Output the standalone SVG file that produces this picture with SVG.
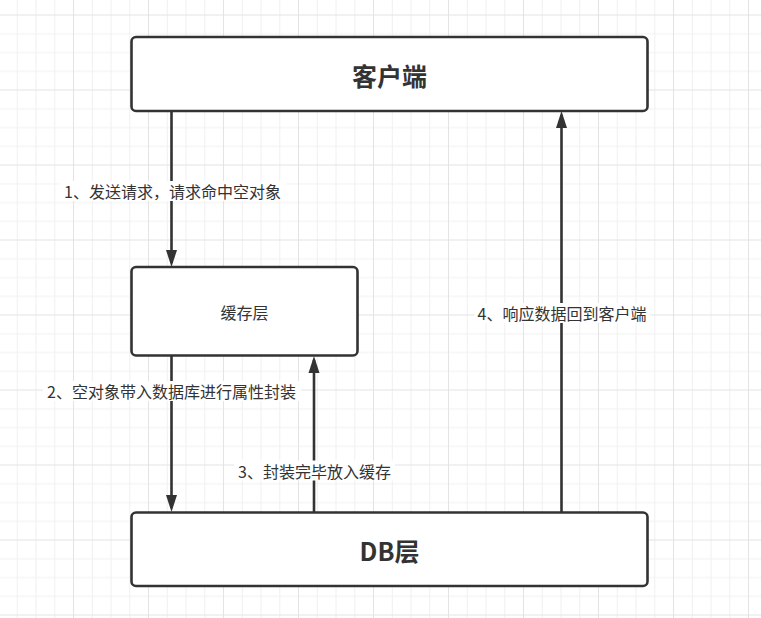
<svg xmlns="http://www.w3.org/2000/svg" width="761" height="618" viewBox="0 0 761 618">
  <defs>
    <pattern id="grid" patternUnits="userSpaceOnUse" x="73" y="89.5" width="75" height="75">
      <path d="M19.25,0 V75 M38,0 V75 M56.75,0 V75 M0,19.25 H75 M0,38 H75 M0,56.75 H75" stroke="#f0f0f0" stroke-width="1" fill="none"/>
      <path d="M0.5,0 V75 M0,0.5 H75" stroke="#e3e3e3" stroke-width="1" fill="none"/>
    </pattern>
    <marker id="arrow" viewBox="0 -6 17 12" markerWidth="17" markerHeight="12" refX="13" refY="0" orient="auto" markerUnits="userSpaceOnUse">
      <path d="M0,-5.5 L17,0 L0,5.5 Z" fill="#333333"/>
    </marker>
    <style>
      .node rect { fill: #ffffff; stroke: #333333; stroke-width: 2.6; }
      .title { font-family: "Noto Sans CJK SC", "Noto Sans", sans-serif; font-weight: bold; font-size: 25px; fill: #333333; text-anchor: middle; dominant-baseline: central; }
      .plain { font-family: "Noto Sans CJK SC", "Noto Sans", sans-serif; font-size: 16px; fill: #333333; text-anchor: middle; dominant-baseline: central; }
      .conn line { stroke: #333333; stroke-width: 2.6; marker-end: url(#arrow); }
      .lbl rect { fill: #ffffff; }
      .lbl text { font-family: "Noto Sans CJK SC", "Noto Sans", sans-serif; font-size: 16px; fill: #333333; text-anchor: middle; dominant-baseline: central; }
    </style>
  </defs>
  <rect x="0" y="0" width="761" height="618" fill="#ffffff"/>
  <rect x="0" y="0" width="761" height="618" fill="url(#grid)"/>

  <g id="connectors" class="conn">
    <line x1="171.5" y1="111" x2="171.5" y2="263"/>
    <line x1="171.5" y1="356" x2="171.5" y2="508"/>
    <line x1="314" y1="512" x2="314" y2="360"/>
    <line x1="561.5" y1="512" x2="561.5" y2="115"/>
  </g>

  <g id="labels" class="lbl">
    <g id="label1">
      <rect x="60" y="181" width="226" height="20"/>
      <text x="172.5" y="191">1、发送请求，请求命中空对象</text>
    </g>
    <g id="label2">
      <rect x="43" y="381" width="258" height="20"/>
      <text x="171.5" y="391">2、空对象带入数据库进行属性封装</text>
    </g>
    <g id="label3">
      <rect x="234" y="460.5" width="161" height="20"/>
      <text x="314.5" y="470.5">3、封装完毕放入缓存</text>
    </g>
    <g id="label4">
      <rect x="474" y="303" width="176" height="20"/>
      <text x="562" y="313">4、响应数据回到客户端</text>
    </g>
  </g>

  <g id="client" class="node">
    <rect x="131.5" y="37" width="516" height="74" rx="4.5" ry="4.5"/>
    <text class="title" x="389.5" y="74.5">客户端</text>
  </g>
  <g id="cache" class="node">
    <rect x="131.5" y="267" width="226" height="88.5" rx="4.5" ry="4.5"/>
    <text class="plain" x="244.5" y="312">缓存层</text>
  </g>
  <g id="db" class="node">
    <rect x="131.5" y="512.5" width="516" height="73.5" rx="4.5" ry="4.5"/>
    <text class="title" x="389.5" y="550">DB层</text>
  </g>
</svg>
